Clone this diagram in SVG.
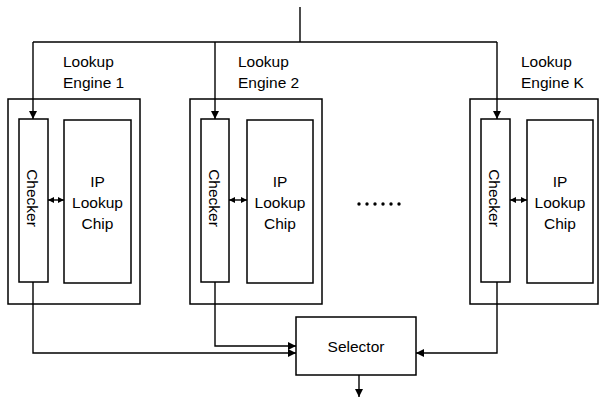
<svg xmlns="http://www.w3.org/2000/svg" width="600" height="399" viewBox="0 0 600 399">
<style>
.box{fill:none;stroke:#000;stroke-width:1.5}
.ln{fill:none;stroke:#000;stroke-width:1.4}
.t{font-family:"Liberation Sans",Arial,sans-serif;font-size:15.5px;fill:#000}
.c{text-anchor:middle}
</style>
<defs>
<marker id="ah" viewBox="0 0 10 10" refX="10" refY="5" markerWidth="8" markerHeight="8" markerUnits="userSpaceOnUse" orient="auto">
<path d="M0,0 L10,5 L0,10 Z" fill="#000"/>
</marker>
<marker id="ahs" viewBox="0 0 10 10" refX="10" refY="5" markerWidth="6" markerHeight="6" markerUnits="userSpaceOnUse" orient="auto-start-reverse">
<path d="M0,0 L10,5 L0,10 Z" fill="#000"/>
</marker>
</defs>
<rect width="600" height="399" fill="#fff"/>
<g id="engine1">
<text class="t" x="63" y="67">Lookup</text>
<text class="t" x="63" y="88">Engine 1</text>
<rect class="box" x="8" y="99" width="132" height="205"/>
<rect class="box" x="19" y="119" width="29" height="163"/>
<text class="t c" transform="translate(27,198) rotate(90)">Checker</text>
<rect class="box" x="64" y="120" width="67" height="163"/>
<text class="t c" x="97.5" y="187">IP</text>
<text class="t c" x="97.5" y="208">Lookup</text>
<text class="t c" x="97.5" y="229">Chip</text>
</g>
<g id="engine2">
<text class="t" x="238" y="67">Lookup</text>
<text class="t" x="238" y="88">Engine 2</text>
<rect class="box" x="190" y="99" width="132" height="205"/>
<rect class="box" x="201" y="119" width="28" height="163"/>
<text class="t c" transform="translate(209,198) rotate(90)">Checker</text>
<rect class="box" x="247" y="120" width="66" height="163"/>
<text class="t c" x="280" y="187">IP</text>
<text class="t c" x="280" y="208">Lookup</text>
<text class="t c" x="280" y="229">Chip</text>
</g>
<g id="engineK">
<text class="t" x="521" y="67">Lookup</text>
<text class="t" x="521" y="88">Engine K</text>
<rect class="box" x="470" y="99" width="128" height="205"/>
<rect class="box" x="481" y="119" width="29" height="163"/>
<text class="t c" transform="translate(489,198) rotate(90)">Checker</text>
<rect class="box" x="527" y="120" width="66" height="163"/>
<text class="t c" x="560" y="187">IP</text>
<text class="t c" x="560" y="208">Lookup</text>
<text class="t c" x="560" y="229">Chip</text>
</g>
<g id="dots" fill="#000">
<circle cx="359" cy="204" r="1.7"/>
<circle cx="367" cy="204" r="1.7"/>
<circle cx="375" cy="204" r="1.7"/>
<circle cx="383" cy="204" r="1.7"/>
<circle cx="391" cy="204" r="1.7"/>
<circle cx="399" cy="204" r="1.7"/>
</g>
<g id="selector">
<rect class="box" x="296" y="317" width="120" height="58"/>
<text class="t c" x="356" y="352">Selector</text>
</g>
<g id="connectors">
<path class="ln" d="M300,7 V42"/>
<path class="ln" d="M33,42 H497"/>
<path class="ln" d="M33,42 V119" marker-end="url(#ah)"/>
<path class="ln" d="M215,42 V119" marker-end="url(#ah)"/>
<path class="ln" d="M497,42 V119" marker-end="url(#ah)"/>
<path class="ln" d="M48,200 H64" marker-start="url(#ahs)" marker-end="url(#ahs)"/>
<path class="ln" d="M229,200 H247" marker-start="url(#ahs)" marker-end="url(#ahs)"/>
<path class="ln" d="M510,200 H527" marker-start="url(#ahs)" marker-end="url(#ahs)"/>
<path class="ln" d="M33,282 V353 H296" marker-end="url(#ah)"/>
<path class="ln" d="M215,282 V346 H296" marker-end="url(#ah)"/>
<path class="ln" d="M497,282 V353 H416" marker-end="url(#ah)"/>
<path class="ln" d="M359,375 V397" marker-end="url(#ah)"/>
</g>
</svg>
